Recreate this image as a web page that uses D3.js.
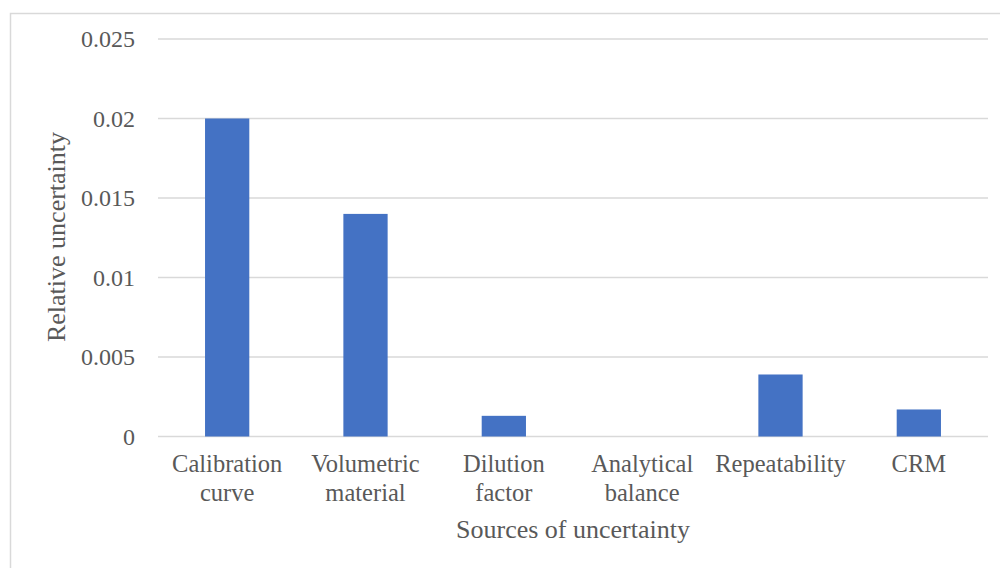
<!DOCTYPE html>
<html>
<head>
<meta charset="utf-8">
<script src="https://cdn.jsdelivr.net/npm/d3@7"></script>
<style>
  html, body { margin: 0; padding: 0; background: #fff; }
  svg { display: block; }
</style>
</head>
<body>
<svg id="chart" width="1000" height="568"></svg>
<script>
const categories = [["Calibration", "curve"], ["Volumetric", "material"], ["Dilution", "factor"], ["Analytical", "balance"], ["Repeatability"], ["CRM"]];
const values = [0.020, 0.014, 0.0013, 0, 0.0039, 0.0017];
const yTicks = [0, 0.005, 0.01, 0.015, 0.02, 0.025];
const yTickLabels = ["0", "0.005", "0.01", "0.015", "0.02", "0.025"];
const xTitle = "Sources of uncertainty";
const yTitle = "Relative uncertainty";

const FONT = "'Liberation Serif', 'DejaVu Serif', serif";
const svg = d3.select("#chart");
const W = 1000, H = 568;
const m = { left: 158, right: 12, top: 39, bottom: 131.5 };

// outer border
svg.append("rect").attr("x", 10.5).attr("y", 13.5).attr("width", 1000).attr("height", 600)
  .attr("fill", "none").attr("stroke", "#d9d9d9").attr("stroke-width", 1.5);

const x = d3.scaleBand().domain(d3.range(categories.length))
  .range([m.left, W - m.right]).paddingInner(0.68).paddingOuter(0.34);
const y = d3.scaleLinear().domain([0, 0.025]).range([H - m.bottom, m.top]);

// gridlines
svg.append("g").selectAll("line").data(yTicks).join("line")
  .attr("x1", m.left).attr("x2", W - m.right)
  .attr("y1", d => y(d)).attr("y2", d => y(d))
  .attr("stroke", "#d9d9d9").attr("stroke-width", 1.5);

const T = svg.append("g").attr("font-family", FONT).attr("fill", "#595959").attr("font-size", 24);

// y tick labels
T.append("g").selectAll("text").data(yTicks).join("text")
  .attr("x", 135).attr("y", d => y(d)).attr("dy", "0.35em")
  .attr("text-anchor", "end")
  .text((d, i) => yTickLabels[i]);

// bars
svg.append("g").selectAll("rect").data(values).join("rect")
  .attr("x", (d, i) => x(i)).attr("width", x.bandwidth())
  .attr("y", d => y(d)).attr("height", d => y(0) - y(d))
  .attr("fill", "#4472c4");

// x category labels
const xl = T.append("g").selectAll("text").data(categories).join("text")
  .attr("text-anchor", "middle").attr("font-size", 24.5)
  .attr("x", (d, i) => x(i) + x.bandwidth() / 2).attr("y", 472);
xl.selectAll("tspan").data(d => d).join("tspan")
  .attr("x", function() { return d3.select(this.parentNode).attr("x"); })
  .attr("dy", (d, i) => i === 0 ? 0 : 29)
  .text(d => d);

// axis titles
T.append("text").attr("x", 573).attr("y", 538)
  .attr("text-anchor", "middle").attr("font-size", 26).text(xTitle);
T.append("text").attr("transform", `translate(65, 237) rotate(-90)`)
  .attr("text-anchor", "middle").attr("font-size", 26).text(yTitle);
</script>
</body>
</html>
